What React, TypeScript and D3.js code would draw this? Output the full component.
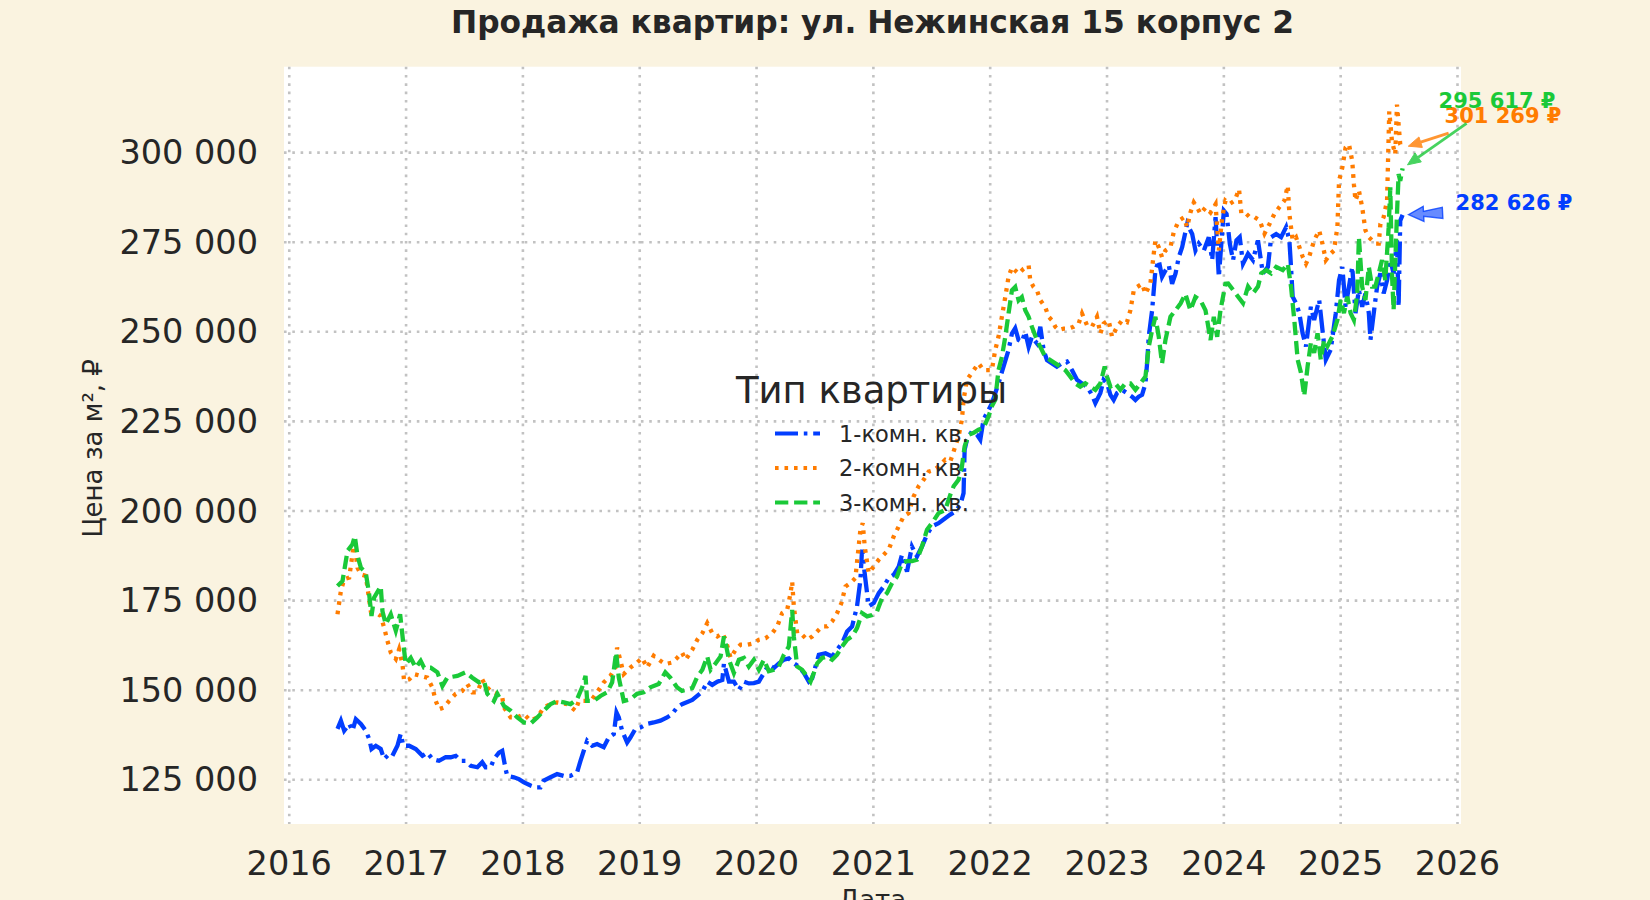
import React, { useEffect } from "react";
import * as d3 from "d3";

// Категории и тики
const roomTypes = ["1-комн. кв.", "2-комн. кв.", "3-комн. кв."];
const yearTicks = [2016, 2017, 2018, 2019, 2020, 2021, 2022, 2023, 2024, 2025, 2026];
const priceTicks = [125000, 150000, 175000, 200000, 225000, 250000, 275000, 300000];

// [дата (доля года), цена за м², ₽]
const oneRoom: [number, number][] = [
  [2016.413, 139200], [2016.442, 141500], [2016.470, 138700], [2016.513, 140600], [2016.541, 138700],
  [2016.570, 141900], [2016.613, 140600], [2016.655, 138700], [2016.684, 136400], [2016.704, 133600],
  [2016.741, 134500], [2016.783, 133600], [2016.812, 130800], [2016.855, 132200], [2016.883, 131700],
  [2016.926, 134500], [2016.954, 137800], [2016.977, 134500], [2017.026, 134500], [2017.083, 133600],
  [2017.140, 131700], [2017.182, 132600], [2017.225, 130800], [2017.282, 130300], [2017.339, 131300],
  [2017.382, 131300], [2017.425, 131700], [2017.467, 130300], [2017.510, 130300], [2017.553, 128900],
  [2017.610, 128500], [2017.652, 129900], [2017.681, 128500], [2017.724, 128500], [2017.752, 130800],
  [2017.795, 132600], [2017.823, 133100], [2017.852, 128000], [2017.866, 126100], [2017.923, 125700],
  [2017.966, 125200], [2018.009, 124300], [2018.066, 123400], [2018.108, 122900], [2018.151, 122900],
  [2018.179, 124800], [2018.236, 125700], [2018.293, 126600], [2018.350, 126100], [2018.407, 126100],
  [2018.464, 127100], [2018.493, 130300], [2018.521, 133100], [2018.550, 135900], [2018.593, 134500],
  [2018.635, 135000], [2018.692, 134100], [2018.735, 136800], [2018.778, 137800], [2018.801, 143800],
  [2018.821, 142400], [2018.849, 138700], [2018.892, 135400], [2018.920, 136800], [2018.963, 139200],
  [2019.006, 139600], [2019.063, 140600], [2019.120, 141000], [2019.177, 141500], [2019.234, 142400],
  [2019.276, 143300], [2019.319, 145200], [2019.362, 146100], [2019.450, 147300], [2019.536, 149600],
  [2019.578, 152400], [2019.621, 151500], [2019.664, 152400], [2019.707, 152900], [2019.721, 157500],
  [2019.764, 152400], [2019.806, 152400], [2019.849, 150100], [2019.892, 152400], [2019.934, 151900],
  [2019.977, 152000], [2020.020, 152400], [2020.063, 154800], [2020.105, 157100], [2020.148, 156200],
  [2020.191, 157500], [2020.234, 158500], [2020.276, 158900], [2020.319, 157500], [2020.362, 156600],
  [2020.405, 154800], [2020.447, 152400], [2020.476, 153300], [2020.504, 156600], [2020.533, 159900],
  [2020.590, 160300], [2020.647, 159400], [2020.689, 161300], [2020.732, 163100], [2020.775, 166400],
  [2020.818, 167800], [2020.860, 173400], [2020.889, 180800], [2020.903, 189200], [2020.932, 180800],
  [2020.960, 173400], [2021.003, 174300], [2021.046, 177100], [2021.088, 178900], [2021.131, 181300],
  [2021.174, 182200], [2021.217, 184500], [2021.245, 187800], [2021.288, 183100], [2021.330, 190100],
  [2021.373, 187300], [2021.416, 190100], [2021.459, 193400], [2021.501, 195700], [2021.558, 196600],
  [2021.615, 198000], [2021.658, 199000], [2021.701, 199900], [2021.744, 201700], [2021.772, 205000],
  [2021.781, 217100], [2021.801, 219900], [2021.843, 222200], [2021.886, 221300], [2021.915, 219900],
  [2021.943, 225500], [2022.014, 230000], [2022.071, 235600], [2022.114, 240300], [2022.157, 244900],
  [2022.186, 249500], [2022.214, 251000], [2022.243, 247700], [2022.271, 247200], [2022.300, 250000],
  [2022.329, 245800], [2022.357, 248600], [2022.400, 246800], [2022.429, 251400], [2022.457, 244900],
  [2022.486, 242100], [2022.529, 241200], [2022.571, 240300], [2022.614, 241200], [2022.657, 241700],
  [2022.700, 239300], [2022.743, 236600], [2022.786, 235600], [2022.829, 234700], [2022.871, 232400],
  [2022.900, 230100], [2022.943, 232900], [2022.971, 236600], [2023.000, 235600], [2023.029, 232400],
  [2023.057, 231000], [2023.086, 232900], [2023.129, 233800], [2023.171, 232900], [2023.214, 231900],
  [2023.243, 231000], [2023.271, 231900], [2023.300, 232400], [2023.329, 235600], [2023.343, 241200],
  [2023.357, 248600], [2023.386, 256000], [2023.414, 267100], [2023.443, 269900], [2023.471, 265300],
  [2023.500, 267100], [2023.529, 268500], [2023.557, 263400], [2023.586, 266200], [2023.614, 270800],
  [2023.643, 273600], [2023.686, 280100], [2023.729, 277300], [2023.757, 272700], [2023.786, 274600],
  [2023.829, 272700], [2023.871, 276400], [2023.900, 270000], [2023.929, 282000], [2023.957, 265300],
  [2024.000, 283800], [2024.023, 282900], [2024.051, 274600], [2024.079, 270000], [2024.108, 275500],
  [2024.136, 276400], [2024.164, 269000], [2024.207, 271800], [2024.249, 270000], [2024.292, 275500],
  [2024.334, 266300], [2024.377, 268100], [2024.405, 276400], [2024.448, 277300], [2024.490, 276400],
  [2024.533, 279200], [2024.561, 275500], [2024.575, 268100], [2024.589, 259800], [2024.618, 258000],
  [2024.646, 255200], [2024.674, 249600], [2024.703, 245900], [2024.745, 257000], [2024.773, 253300],
  [2024.816, 258900], [2024.844, 250600], [2024.873, 242200], [2024.915, 245000], [2024.958, 255200],
  [2024.986, 264400], [2025.014, 268100], [2025.042, 257000], [2025.071, 262600], [2025.099, 268100],
  [2025.127, 255200], [2025.156, 261700], [2025.184, 257000], [2025.212, 260700], [2025.241, 255200],
  [2025.255, 247800], [2025.283, 255200], [2025.312, 262600], [2025.340, 266300], [2025.368, 260700],
  [2025.397, 264400], [2025.425, 270000], [2025.453, 266300], [2025.482, 275500], [2025.496, 257000],
  [2025.510, 281000], [2025.530, 282626],
];

const twoRoom: [number, number][] = [
  [2016.413, 171200], [2016.442, 177700], [2016.470, 181000], [2016.513, 181400], [2016.541, 187900],
  [2016.556, 191600], [2016.584, 184200], [2016.613, 182300], [2016.655, 181900], [2016.698, 172100],
  [2016.741, 171700], [2016.783, 170700], [2016.812, 167500], [2016.840, 163800], [2016.869, 160500],
  [2016.912, 158700], [2016.940, 161400], [2016.969, 157300], [2016.983, 152600], [2017.026, 153000],
  [2017.068, 154500], [2017.125, 154000], [2017.182, 153500], [2017.225, 150800], [2017.254, 147000],
  [2017.282, 144700], [2017.325, 145200], [2017.368, 147000], [2017.425, 149000], [2017.481, 149800],
  [2017.524, 151700], [2017.567, 149400], [2017.610, 149400], [2017.652, 153000], [2017.681, 151200],
  [2017.724, 149800], [2017.781, 149000], [2017.823, 148000], [2017.838, 145200], [2017.895, 142400],
  [2017.952, 142400], [2018.009, 143300], [2018.066, 141500], [2018.123, 142400], [2018.179, 145200],
  [2018.236, 146100], [2018.293, 146600], [2018.379, 146100], [2018.450, 144300], [2018.479, 147000],
  [2018.550, 147000], [2018.593, 147500], [2018.635, 149400], [2018.692, 152200], [2018.749, 154000],
  [2018.792, 156300], [2018.806, 161900], [2018.835, 158200], [2018.863, 154500], [2018.920, 156300],
  [2018.977, 157700], [2019.020, 159000], [2019.063, 156300], [2019.120, 159600], [2019.177, 158200],
  [2019.219, 157300], [2019.276, 157700], [2019.319, 159000], [2019.362, 160500], [2019.393, 158500],
  [2019.450, 161300], [2019.493, 164100], [2019.536, 165900], [2019.578, 168700], [2019.621, 165900],
  [2019.664, 165000], [2019.707, 165900], [2019.735, 164100], [2019.778, 159000], [2019.821, 161300],
  [2019.863, 162700], [2019.920, 162700], [2019.977, 163100], [2020.020, 164100], [2020.077, 164500],
  [2020.134, 165900], [2020.177, 167800], [2020.219, 171500], [2020.262, 172400], [2020.291, 177100],
  [2020.305, 180300], [2020.319, 173400], [2020.348, 165900], [2020.390, 165500], [2020.433, 164100],
  [2020.476, 165000], [2020.519, 166400], [2020.561, 167800], [2020.604, 167800], [2020.647, 169200],
  [2020.689, 171500], [2020.726, 174300], [2020.761, 178900], [2020.803, 179900], [2020.846, 181300],
  [2020.889, 194800], [2020.909, 196600], [2020.926, 190100], [2020.960, 182700], [2021.003, 184500],
  [2021.046, 186400], [2021.088, 187800], [2021.131, 189200], [2021.174, 192900], [2021.217, 195700],
  [2021.259, 198500], [2021.302, 199400], [2021.345, 204100], [2021.387, 206900], [2021.430, 208700],
  [2021.473, 211000], [2021.516, 211400], [2021.558, 212400], [2021.615, 214300], [2021.658, 213800],
  [2021.701, 218000], [2021.729, 220800], [2021.758, 225500], [2021.772, 231000], [2021.801, 236600],
  [2021.900, 241200], [2021.943, 239300], [2022.014, 239300], [2022.043, 244900], [2022.071, 248600],
  [2022.100, 254200], [2022.129, 259700], [2022.157, 265300], [2022.186, 268000], [2022.214, 267100],
  [2022.243, 266200], [2022.286, 267600], [2022.329, 268500], [2022.343, 264300], [2022.371, 262500],
  [2022.400, 261600], [2022.429, 258800], [2022.471, 256900], [2022.500, 254200], [2022.529, 253200],
  [2022.557, 251400], [2022.586, 250500], [2022.629, 250900], [2022.671, 250900], [2022.714, 251400],
  [2022.757, 252300], [2022.786, 255100], [2022.829, 251800], [2022.871, 251400], [2022.914, 254200],
  [2022.943, 249500], [2022.971, 252300], [2023.014, 253200], [2023.043, 248600], [2023.086, 251400],
  [2023.129, 253200], [2023.171, 252700], [2023.200, 256000], [2023.229, 261600], [2023.257, 262500],
  [2023.300, 263400], [2023.329, 260600], [2023.371, 263400], [2023.400, 271800], [2023.414, 275500],
  [2023.443, 273600], [2023.471, 270800], [2023.500, 272700], [2023.543, 273600], [2023.571, 277800],
  [2023.614, 281000], [2023.657, 281900], [2023.686, 279200], [2023.714, 283300], [2023.743, 286100],
  [2023.771, 284700], [2023.800, 282900], [2023.843, 284700], [2023.886, 283300], [2023.929, 285600],
  [2023.957, 272700], [2023.986, 281900], [2024.014, 286600], [2024.051, 285700], [2024.093, 286600],
  [2024.130, 289800], [2024.150, 282900], [2024.193, 282900], [2024.221, 282000], [2024.263, 282000],
  [2024.306, 281100], [2024.348, 277400], [2024.391, 280100], [2024.433, 282900], [2024.476, 284800],
  [2024.518, 286600], [2024.547, 290800], [2024.561, 282900], [2024.589, 275500], [2024.618, 276400],
  [2024.646, 273700], [2024.674, 271000], [2024.703, 269000], [2024.731, 271000], [2024.773, 275500],
  [2024.816, 278300], [2024.844, 274600], [2024.873, 270000], [2024.915, 271800], [2024.943, 272700],
  [2024.972, 279200], [2024.986, 292100], [2025.014, 295800], [2025.042, 301400], [2025.071, 302300],
  [2025.099, 297700], [2025.113, 291200], [2025.127, 286600], [2025.156, 289400], [2025.184, 284800],
  [2025.212, 278300], [2025.241, 276400], [2025.269, 275500], [2025.297, 274600], [2025.326, 274600],
  [2025.340, 280100], [2025.368, 282000], [2025.397, 286600], [2025.416, 311500], [2025.439, 303200],
  [2025.467, 299500], [2025.482, 313400], [2025.510, 302300], [2025.530, 301269],
];

const threeRoom: [number, number][] = [
  [2016.413, 179100], [2016.456, 180500], [2016.499, 188900], [2016.541, 190700], [2016.561, 193000],
  [2016.584, 187500], [2016.613, 184200], [2016.655, 182800], [2016.684, 176800], [2016.704, 170700],
  [2016.726, 175800], [2016.783, 179000], [2016.798, 172000], [2016.826, 168400], [2016.869, 171200],
  [2016.912, 166600], [2016.949, 171200], [2016.977, 162800], [2016.997, 157300], [2017.040, 159000],
  [2017.083, 156300], [2017.125, 158200], [2017.154, 156300], [2017.211, 156300], [2017.268, 155000],
  [2017.311, 151200], [2017.353, 153500], [2017.439, 154000], [2017.510, 155000], [2017.567, 153500],
  [2017.624, 152200], [2017.667, 152600], [2017.695, 149000], [2017.752, 147000], [2017.781, 149000],
  [2017.838, 145600], [2017.895, 144300], [2017.952, 142400], [2018.009, 141000], [2018.066, 140700],
  [2018.123, 142400], [2018.179, 144300], [2018.236, 146100], [2018.293, 147000], [2018.350, 146600],
  [2018.407, 146100], [2018.464, 147500], [2018.507, 150800], [2018.536, 154000], [2018.550, 147000],
  [2018.607, 147000], [2018.664, 148400], [2018.721, 149400], [2018.764, 152200], [2018.798, 160500],
  [2018.821, 153500], [2018.863, 147000], [2018.920, 147500], [2018.977, 149000], [2019.034, 149400],
  [2019.091, 150800], [2019.162, 151700], [2019.219, 155000], [2019.262, 153500], [2019.319, 150800],
  [2019.362, 149800], [2019.393, 150100], [2019.450, 150600], [2019.493, 153800], [2019.536, 155700],
  [2019.578, 159400], [2019.607, 155700], [2019.650, 157500], [2019.692, 159400], [2019.721, 165000],
  [2019.735, 163100], [2019.764, 158500], [2019.806, 154800], [2019.849, 158500], [2019.892, 159000],
  [2019.934, 156600], [2019.977, 158500], [2020.020, 155700], [2020.063, 158500], [2020.105, 155300],
  [2020.148, 155700], [2020.191, 156600], [2020.234, 159900], [2020.276, 162200], [2020.305, 172400],
  [2020.319, 165000], [2020.348, 156600], [2020.390, 155700], [2020.433, 153800], [2020.462, 152400],
  [2020.490, 154800], [2020.519, 157500], [2020.561, 159000], [2020.604, 159400], [2020.647, 158500],
  [2020.689, 159900], [2020.732, 162200], [2020.775, 164100], [2020.818, 165000], [2020.860, 167300],
  [2020.903, 171500], [2020.946, 170600], [2020.989, 171000], [2021.031, 172000], [2021.074, 175700],
  [2021.117, 177100], [2021.160, 179900], [2021.202, 181700], [2021.245, 185500], [2021.288, 186000],
  [2021.330, 186000], [2021.373, 186400], [2021.416, 190100], [2021.459, 194800], [2021.501, 196600],
  [2021.558, 199400], [2021.615, 200300], [2021.658, 204500], [2021.687, 206900], [2021.729, 208700],
  [2021.758, 212400], [2021.781, 218000], [2021.815, 221300], [2021.858, 221800], [2021.900, 222700],
  [2021.943, 223200], [2021.986, 226400], [2022.014, 229200], [2022.043, 231000], [2022.071, 239300],
  [2022.100, 243000], [2022.129, 248600], [2022.157, 255100], [2022.186, 261600], [2022.214, 262500],
  [2022.243, 258800], [2022.271, 259700], [2022.300, 256000], [2022.329, 254200], [2022.357, 251400],
  [2022.400, 247700], [2022.429, 245800], [2022.471, 243000], [2022.514, 242100], [2022.557, 241200],
  [2022.600, 240300], [2022.643, 239300], [2022.686, 237500], [2022.729, 235600], [2022.771, 234700],
  [2022.814, 235600], [2022.857, 234700], [2022.900, 233800], [2022.943, 235600], [2022.980, 240300],
  [2023.000, 237500], [2023.029, 234700], [2023.071, 235600], [2023.114, 233800], [2023.157, 235600],
  [2023.200, 235600], [2023.243, 233800], [2023.286, 235600], [2023.329, 237500], [2023.357, 245800],
  [2023.386, 250500], [2023.414, 254200], [2023.443, 248600], [2023.471, 241200], [2023.500, 247700],
  [2023.543, 254200], [2023.586, 256000], [2023.629, 257900], [2023.671, 260600], [2023.714, 256000],
  [2023.757, 259700], [2023.800, 258800], [2023.843, 256000], [2023.886, 247700], [2023.914, 254200],
  [2023.943, 248600], [2023.971, 256000], [2024.014, 263400], [2024.037, 263500], [2024.079, 261700],
  [2024.122, 259800], [2024.164, 258000], [2024.207, 262600], [2024.249, 260700], [2024.292, 262600],
  [2024.320, 266300], [2024.363, 267200], [2024.405, 266300], [2024.448, 268100], [2024.504, 267200],
  [2024.547, 269000], [2024.575, 262600], [2024.603, 253300], [2024.632, 242200], [2024.660, 238600],
  [2024.688, 232100], [2024.717, 240400], [2024.745, 246900], [2024.773, 244100], [2024.802, 249600],
  [2024.830, 242200], [2024.858, 247800], [2024.887, 246000], [2024.929, 248700], [2024.972, 253300],
  [2025.000, 258900], [2025.028, 255200], [2025.057, 259800], [2025.085, 255200], [2025.113, 253300],
  [2025.142, 260700], [2025.156, 276400], [2025.184, 262600], [2025.212, 258900], [2025.241, 268100],
  [2025.269, 262600], [2025.297, 262600], [2025.326, 266300], [2025.354, 270000], [2025.382, 264400],
  [2025.411, 279200], [2025.425, 290300], [2025.439, 266300], [2025.453, 256100], [2025.482, 282900],
  [2025.496, 294000], [2025.510, 292100], [2025.530, 295617],
];

const seriesList = [oneRoom, twoRoom, threeRoom];
const colors = ["#023eff", "#ff7c00", "#1ac938"];
const dashes = ["23 5.8 3.6 5.8", "3.6 5.9", "13.3 5.8"];

// положение подписей-аннотаций относительно последней точки (px)
const labelOffsets: [number, number][] = [[53, -5], [42, -25], [36, -60]];
const tailOffsets: [number, number][] = [[40, -2], [46, -15], [64, -45]];

const W = 1650;
const H = 900;
const left = 284, right = 1461, top = 66.7, bottom = 824;
const ink = "#262626";
const font = "'DejaVu Sans', sans-serif";

const fmt = (v: number) => d3.format(",.0f")(v).replace(/,/g, " ");

function arrowPoints(tip: number[], tail: number[], headLen: number, headHalf: number) {
  const dx = tail[0] - tip[0], dy = tail[1] - tip[1];
  const L = Math.hypot(dx, dy);
  const ux = dx / L, uy = dy / L, nx = -uy, ny = ux;
  const bx = tip[0] + ux * headLen, by = tip[1] + uy * headLen;
  return { bx, by, nx, ny, head: [[tip[0], tip[1]], [bx + nx * headHalf, by + ny * headHalf], [bx - nx * headHalf, by - ny * headHalf]] };
}

export default function App() {
  useEffect(() => {
    document.body.style.margin = "0";
    document.body.style.overflow = "hidden";
  }, []);

  const x = d3.scaleLinear().domain([2015.955, 2026.03]).range([left, right]);
  const y = d3.scaleLinear().domain([112670, 323970]).range([bottom, top]);
  const line = d3.line<[number, number]>().x(d => x(d[0])).y(d => y(d[1]));

  const cx = (left + right) / 2;
  const cy = (top + bottom) / 2;

  return (
    <svg width={W} height={H} style={{ display: "block", background: "#faf3e0" }} fontFamily={font}>
      <rect x={0} y={0} width={W} height={H} fill="#faf3e0" />
      <rect x={left} y={top} width={right - left} height={bottom - top} fill="#ffffff" />

      {/* сетка */}
      <g stroke="#c2c2c2" strokeWidth={2.6} strokeDasharray="2.6 5.7">
        {yearTicks.map(t => (
          <line key={"gx" + t} x1={x(t)} x2={x(t)} y1={top} y2={bottom} />
        ))}
        {priceTicks.map(p => (
          <line key={"gy" + p} x1={left} x2={right} y1={y(p)} y2={y(p)} />
        ))}
      </g>

      {/* оси */}
      <g fill={ink} fontSize={33.5}>
        {yearTicks.map(t => (
          <text key={"tx" + t} x={x(t)} y={875} textAnchor="middle">{t}</text>
        ))}
        {priceTicks.map(p => (
          <text key={"ty" + p} x={258} y={y(p)} textAnchor="end" dominantBaseline="central">{fmt(p)}</text>
        ))}
      </g>
      <text x={cx} y={909} textAnchor="middle" fontSize={26} fill={ink}>Дата</text>
      <text transform={`translate(93,${cy + 3}) rotate(-90)`} textAnchor="middle" dominantBaseline="central" fontSize={26} fill={ink}>
        Цена за м², ₽
      </text>

      {/* линии */}
      <g fill="none" strokeWidth={4.3}>
        {seriesList.map((s, i) => (
          <path key={"s" + i} d={line(s) || ""} stroke={colors[i]} strokeDasharray={dashes[i]} />
        ))}
      </g>

      {/* легенда */}
      <text x={871.5} y={403} textAnchor="middle" fontSize={37} fill={ink}>Тип квартиры</text>
      {roomTypes.map((r, i) => (
        <g key={"lg" + i}>
          <line x1={775} x2={820} y1={433.5 + i * 34.5} y2={433.5 + i * 34.5} stroke={colors[i]} strokeWidth={4} strokeDasharray={dashes[i]} />
          <text x={839} y={441.7 + i * 34.5} fontSize={22.5} fill={ink}>{r}</text>
        </g>
      ))}

      {/* аннотации последних значений */}
      {seriesList.map((s, i) => {
        const last = s[s.length - 1];
        const px = x(last[0]), py = y(last[1]);
        const tail = [px + tailOffsets[i][0], py + tailOffsets[i][1]];
        const dir = [tail[0] - px, tail[1] - py];
        const dl = Math.hypot(dir[0], dir[1]);
        const tip = [px + dir[0] / dl * 6, py + dir[1] / dl * 6];
        const a = arrowPoints(tip, tail, 13, 5.5);
        let arrow;
        if (i === 0) {
          const f = arrowPoints(tip, tail, 15, 7.5);
          const pts = [
            [tip[0], tip[1]],
            [f.bx + f.nx * 7.5, f.by + f.ny * 7.5],
            [f.bx + f.nx * 2.5, f.by + f.ny * 2.5],
            [tail[0] + f.nx * 5.5, tail[1] + f.ny * 5.5],
            [tail[0] - f.nx * 5.5, tail[1] - f.ny * 5.5],
            [f.bx - f.nx * 2.5, f.by - f.ny * 2.5],
            [f.bx - f.nx * 7.5, f.by - f.ny * 7.5],
          ];
          arrow = <polygon points={pts.map(p => p.join(",")).join(" ")} fill={colors[i]} fillOpacity={0.6} stroke={colors[i]} strokeOpacity={0.8} strokeWidth={1.4} />;
        } else {
          arrow = (
            <g opacity={0.8}>
              <line x1={tail[0]} y1={tail[1]} x2={a.bx} y2={a.by} stroke={colors[i]} strokeWidth={2.8} />
              <polygon points={a.head.map(p => p.join(",")).join(" ")} fill={colors[i]} stroke={colors[i]} strokeWidth={1} />
            </g>
          );
        }
        return (
          <g key={"an" + i}>
            {arrow}
            <text x={px + labelOffsets[i][0]} y={py + labelOffsets[i][1]} fontSize={21} fontWeight="bold" fill={colors[i]}>
              {fmt(last[1])} ₽
            </text>
          </g>
        );
      })}

      <text x={cx} y={33} textAnchor="middle" fontSize={31.3} fontWeight="bold" fill={ink}>
        Продажа квартир: ул. Нежинская 15 корпус 2
      </text>
    </svg>
  );
}
